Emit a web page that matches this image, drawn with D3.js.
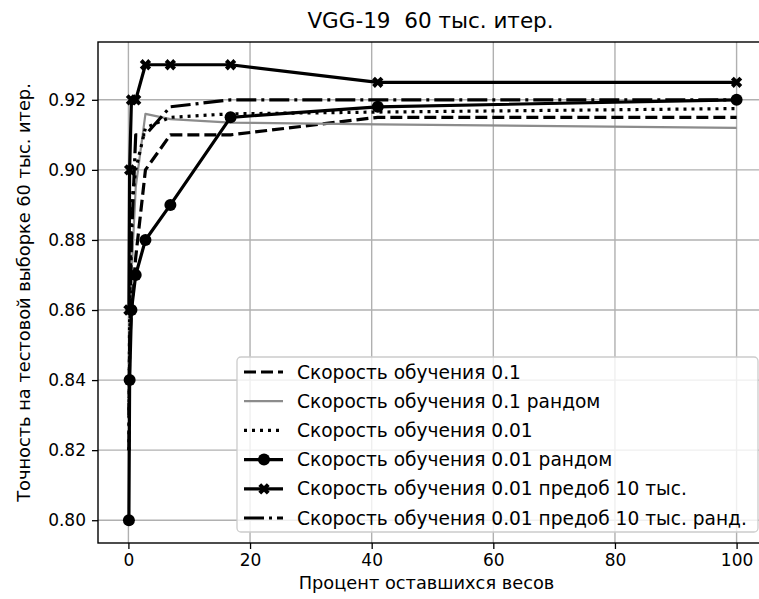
<!DOCTYPE html>
<html>
<head>
<meta charset="utf-8">
<script src="https://cdn.jsdelivr.net/npm/d3@7"></script>
<style>
  body { margin: 0; background: #fff; }
  text { font-family: "DejaVu Sans", sans-serif; fill: #000; white-space: pre; }
</style>
</head>
<body>
<div id="chart"></div>
<script>
// percent of weights left after each pruning round
const percentLeft = [0.08, 0.2, 0.5, 1.2, 2.8, 6.9, 16.8, 41, 100];

const lr01        = [0.83, 0.85, 0.86, 0.875, 0.90, 0.91, 0.91, 0.915, 0.915];
const lr01Rand    = [0.83, 0.85, 0.87, 0.895, 0.916, 0.9145, 0.9135, 0.913, 0.912];
const lr001       = [0.82, 0.86, 0.89, 0.90, 0.912, 0.915, 0.916, 0.9165, 0.9175];
const lr001Rand   = [0.80, 0.84, 0.86, 0.87, 0.88, 0.89, 0.915, 0.918, 0.92];
const lr001Pre    = [0.86, 0.90, 0.92, 0.92, 0.93, 0.93, 0.93, 0.925, 0.925];
const lr001PreRnd = [0.82, 0.85, 0.88, 0.91, 0.91, 0.918, 0.92, 0.92, 0.92];

const labels = [
  "Скорость обучения 0.1",
  "Скорость обучения 0.1 рандом",
  "Скорость обучения 0.01",
  "Скорость обучения 0.01 рандом",
  "Скорость обучения 0.01 предоб 10 тыс.",
  "Скорость обучения 0.01 предоб 10 тыс. ранд."
];
const xTicks = [0, 20, 40, 60, 80, 100];
const yTicks = [0.80, 0.82, 0.84, 0.86, 0.88, 0.90, 0.92];

const width = 759, height = 599;
const margin = {top: 42, left: 98, bottom: 56};
const plotRight = 767; // right spine falls just outside the picture

const series = [
  {vals: lr01,        color: "#000", lw: 3.2, dash: "12,5",          marker: null},
  {vals: lr01Rand,    color: "#8c8c8c", lw: 2.2, dash: null,          marker: null},
  {vals: lr001,       color: "#000", lw: 3.2, dash: "3,5",           marker: null},
  {vals: lr001Rand,   color: "#000", lw: 3.2, dash: null,            marker: "circle"},
  {vals: lr001Pre,    color: "#000", lw: 3.2, dash: null,            marker: "x"},
  {vals: lr001PreRnd, color: "#000", lw: 3.2, dash: "20,5,3,5",      marker: null}
];

const svg = d3.select("#chart").append("svg")
  .attr("width", width)
  .attr("height", height);

const x = d3.scaleLinear().domain([-5, 105]).range([margin.left, plotRight]);
const y = d3.scaleLinear().domain([0.7935, 0.9365]).range([height - margin.bottom, margin.top]);

// grid
svg.append("g").selectAll("line").data(xTicks).join("line")
  .attr("x1", d => x(d)).attr("x2", d => x(d))
  .attr("y1", y.range()[0]).attr("y2", y.range()[1])
  .attr("stroke", "#b0b0b0").attr("stroke-width", 1.4);
svg.append("g").selectAll("line").data(yTicks).join("line")
  .attr("x1", x.range()[0]).attr("x2", x.range()[1])
  .attr("y1", d => y(d)).attr("y2", d => y(d))
  .attr("stroke", "#b0b0b0").attr("stroke-width", 1.4);

// lines
const line = d3.line()
  .x((d, i) => x(percentLeft[i]))
  .y(d => y(d));

const crossSym = d3.symbol().type(d3.symbolCross).size(80);

series.forEach(s => {
  svg.append("path")
    .attr("d", line(s.vals))
    .attr("fill", "none")
    .attr("stroke", s.color)
    .attr("stroke-width", s.lw)
    .attr("stroke-dasharray", s.dash)
    .attr("stroke-linejoin", "round");
  if (s.marker === "circle") {
    svg.append("g").selectAll("circle").data(s.vals).join("circle")
      .attr("cx", (d, i) => x(percentLeft[i]))
      .attr("cy", d => y(d))
      .attr("r", 6)
      .attr("fill", "#000");
  } else if (s.marker === "x") {
    svg.append("g").selectAll("path").data(s.vals).join("path")
      .attr("d", crossSym)
      .attr("transform", (d, i) => `translate(${x(percentLeft[i])},${y(d)}) rotate(45)`)
      .attr("fill", "#000");
  }
});

// axes
const xAxis = svg.append("g")
  .attr("transform", `translate(0,${y.range()[0]})`)
  .call(d3.axisBottom(x).tickValues(xTicks).tickSize(6).tickPadding(5).tickFormat(d3.format("d")));
const yAxis = svg.append("g")
  .attr("transform", `translate(${margin.left},0)`)
  .call(d3.axisLeft(y).tickValues(yTicks).tickSize(6).tickPadding(6).tickFormat(d3.format(".2f")));
[xAxis, yAxis].forEach(a => {
  a.select(".domain").remove();
  a.selectAll("text").attr("font-size", 17).attr("font-family", "DejaVu Sans");
  a.selectAll("line").attr("stroke-width", 1.3);
});

// spines
svg.append("rect")
  .attr("x", margin.left).attr("y", margin.top)
  .attr("width", plotRight - margin.left)
  .attr("height", y.range()[0] - margin.top)
  .attr("fill", "none").attr("stroke", "#000").attr("stroke-width", 1.4);

// titles
svg.append("text")
  .attr("x", (margin.left + plotRight) / 2 - 2).attr("y", 28)
  .attr("text-anchor", "middle").attr("font-size", 21.5)
  .text("VGG-19  60 тыс. итер.");
svg.append("text")
  .attr("x", (margin.left + plotRight) / 2 - 6).attr("y", 589)
  .attr("text-anchor", "middle").attr("font-size", 17.8)
  .text("Процент оставшихся весов");
svg.append("text")
  .attr("transform", `translate(30,${(margin.top + y.range()[0]) / 2}) rotate(-90)`)
  .attr("text-anchor", "middle").attr("font-size", 17.8)
  .text("Точность на тестовой выборке 60 тыс. итер.");

// legend
const leg = svg.append("g").attr("transform", "translate(237,357)");
leg.append("rect")
  .attr("width", 521).attr("height", 175).attr("rx", 4)
  .attr("fill", "#fff").attr("fill-opacity", 0.8)
  .attr("stroke", "#cccccc").attr("stroke-width", 1.3);
series.forEach((s, i) => {
  const cy = 15 + i * 29.2;
  leg.append("line")
    .attr("x1", 7).attr("x2", 46).attr("y1", cy).attr("y2", cy)
    .attr("stroke", s.color).attr("stroke-width", s.lw)
    .attr("stroke-dasharray", s.dash);
  if (s.marker === "circle") {
    leg.append("circle").attr("cx", 27).attr("cy", cy).attr("r", 6).attr("fill", "#000");
  } else if (s.marker === "x") {
    leg.append("path").attr("d", crossSym)
      .attr("transform", `translate(27,${cy}) rotate(45)`).attr("fill", "#000");
  }
  leg.append("text")
    .attr("x", 60).attr("y", cy).attr("dy", "0.35em")
    .attr("font-size", 18.6)
    .text(labels[i]);
});
</script>
</body>
</html>
